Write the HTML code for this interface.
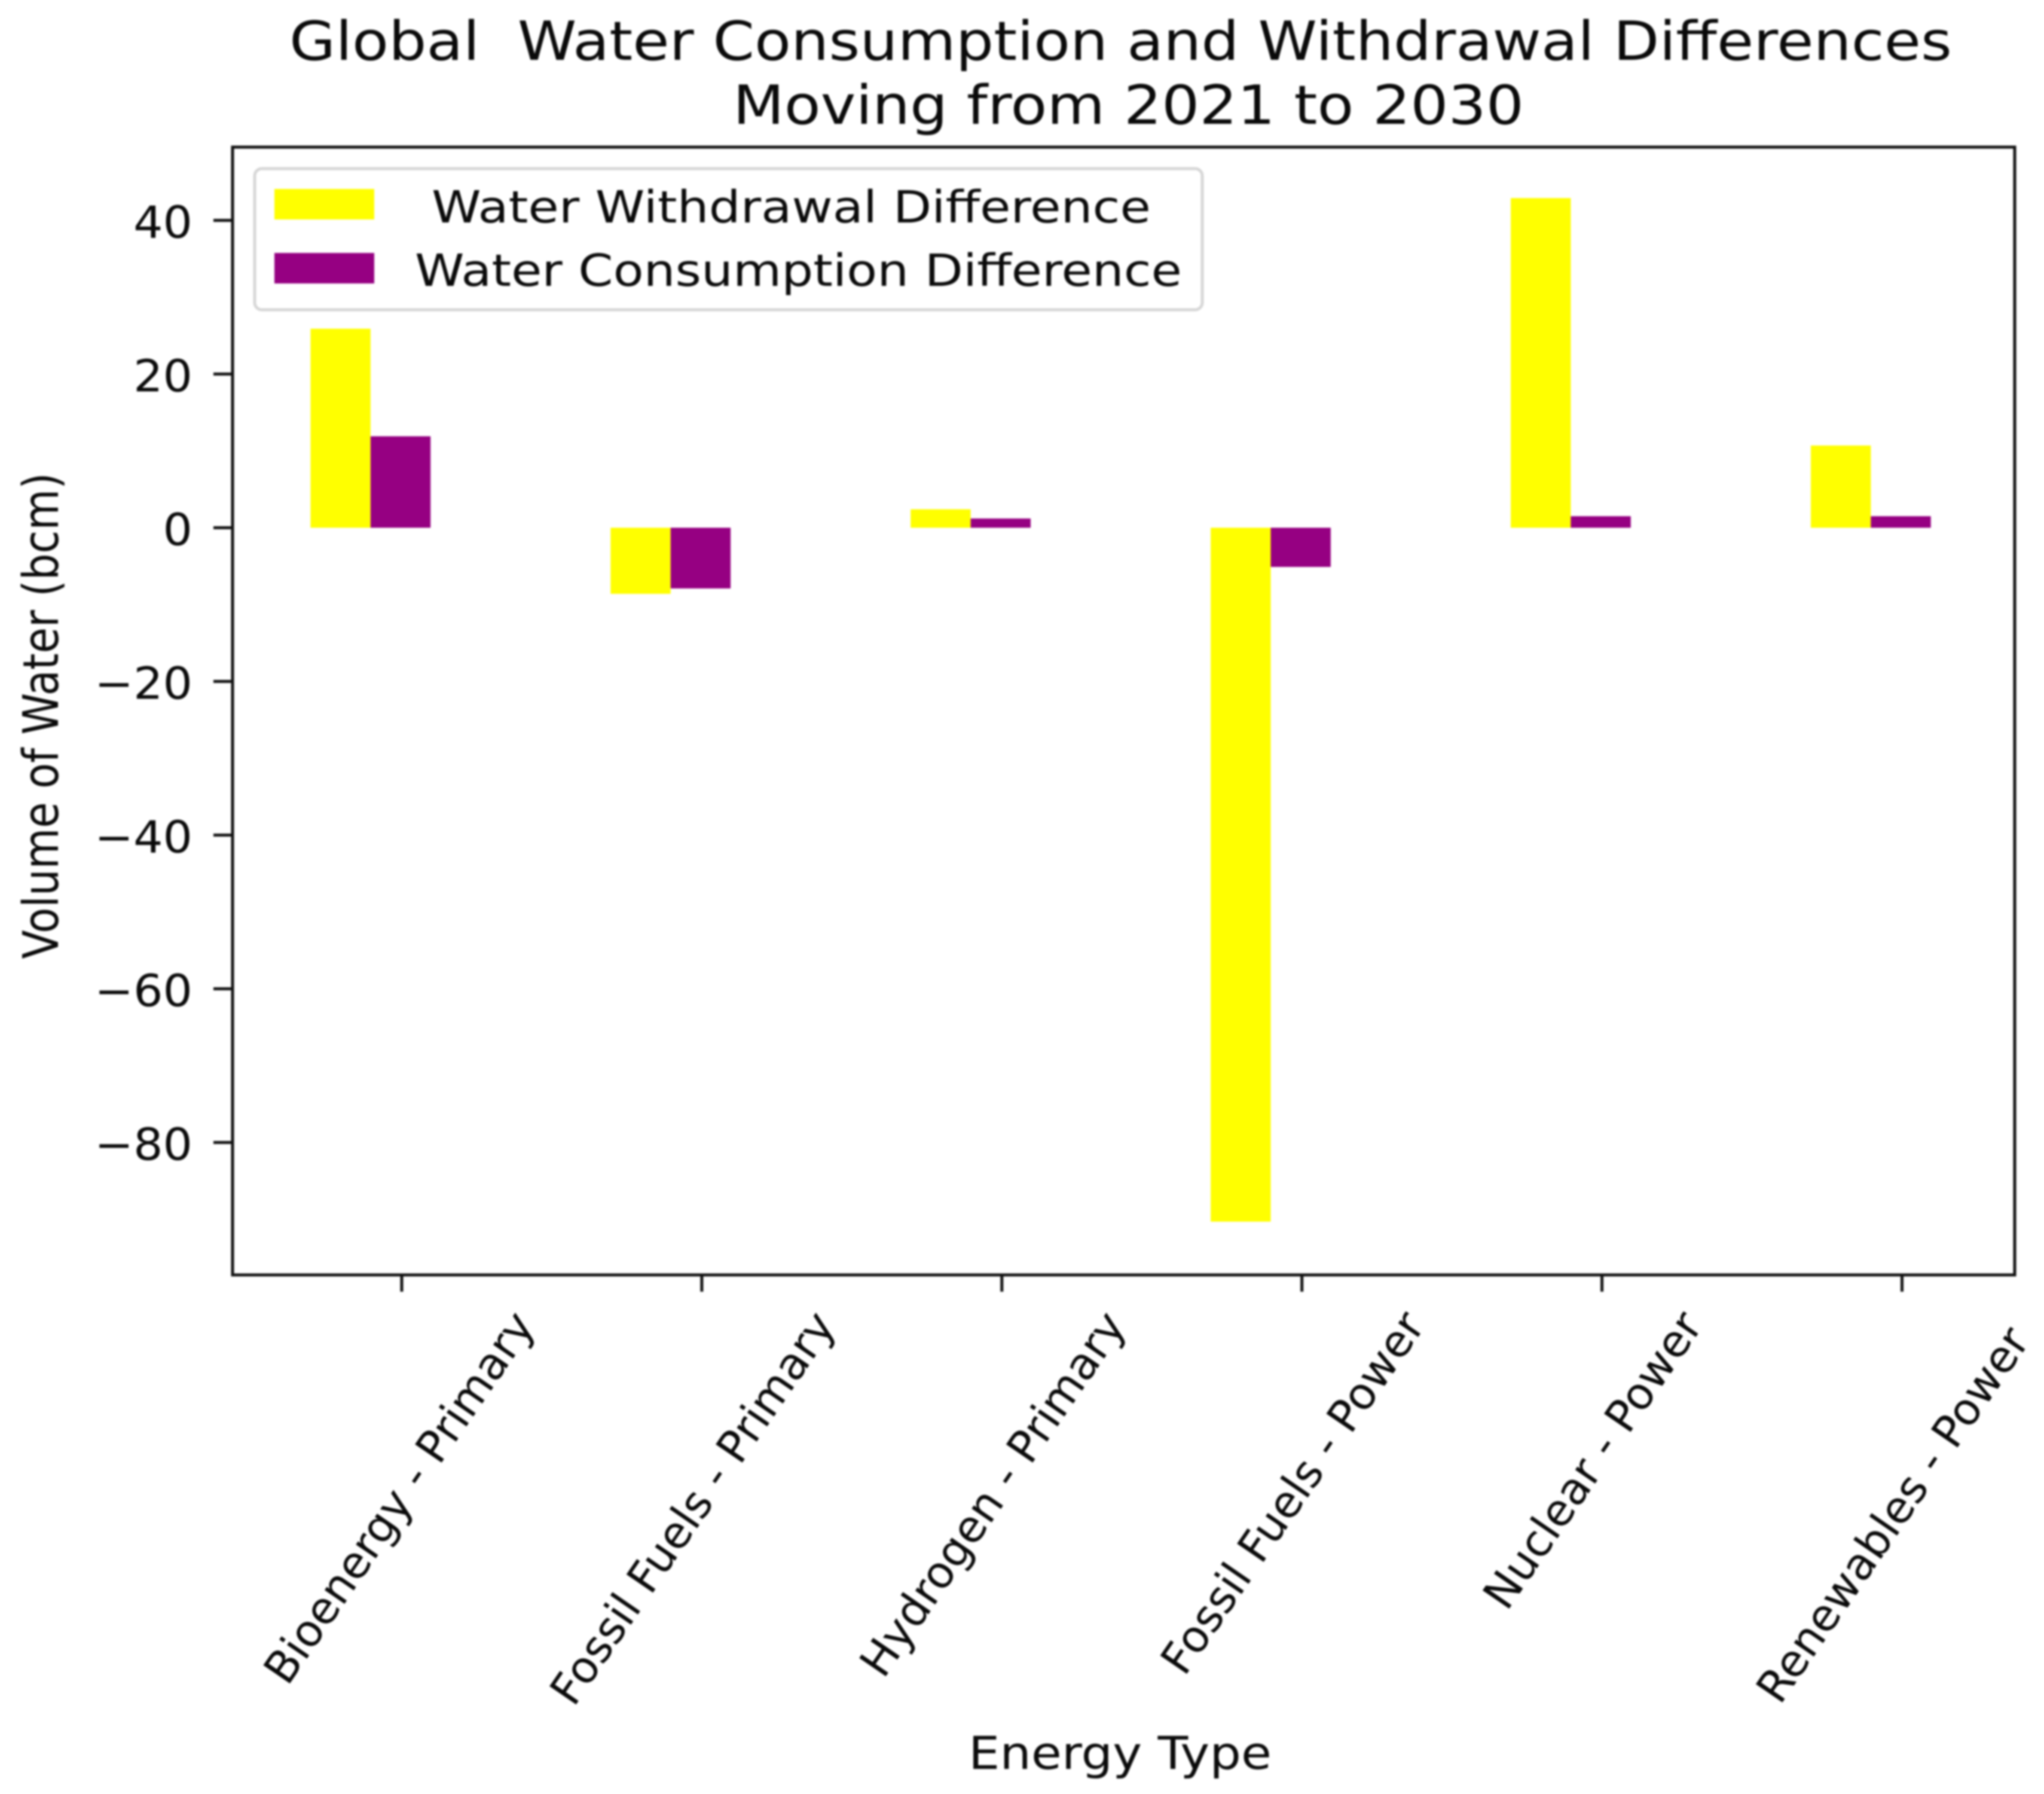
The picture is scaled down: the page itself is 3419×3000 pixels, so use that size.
<!DOCTYPE html>
<html lang="en">
<head>
<meta charset="utf-8">
<title>Global Water Consumption and Withdrawal Differences</title>
<style>
html,body{margin:0;padding:0;background:#fff;width:3419px;height:3000px;overflow:hidden}
svg{display:block;filter:blur(1.7px)}
text{font-family:"DejaVu Sans","Liberation Sans",sans-serif;fill:#0a0a0a;white-space:pre}
</style>
</head>
<body>
<svg id="chart" xmlns="http://www.w3.org/2000/svg" width="3419" height="3000" viewBox="0 0 3419 3000">
  <rect x="0" y="0" width="3419" height="3000" fill="#fff"/>
  <text x="484" y="100" font-size="90" textLength="2781" lengthAdjust="spacingAndGlyphs" xml:space="preserve">Global  Water Consumption and Withdrawal Differences</text>
  <text x="1226" y="207" font-size="90" textLength="1323" lengthAdjust="spacingAndGlyphs">Moving from 2021 to 2030</text>
  <g id="bars"></g>
  <g id="y-axis"></g>
  <g id="x-axis"></g>
  <rect x="389" y="246" width="2981" height="1886" fill="none" stroke="#111" stroke-width="5"/>
  <text transform="translate(97,1197) rotate(-90)" text-anchor="middle" font-size="82" textLength="813" lengthAdjust="spacingAndGlyphs">Volume of Water (bcm)</text>
  <text x="1620" y="2958" font-size="76" textLength="507" lengthAdjust="spacingAndGlyphs">Energy Type</text>
  <g>
    <rect x="426" y="282" width="1585" height="236" rx="12" ry="12" fill="#fff" stroke="#d6d6d6" stroke-width="5"/>
    <rect x="459" y="316" width="167" height="51" fill="#ffff00"/>
    <text x="722" y="372" font-size="74" textLength="1203" lengthAdjust="spacingAndGlyphs">Water Withdrawal Difference</text>
    <rect x="459" y="423" width="167" height="51" fill="#960082"/>
    <text x="694" y="478" font-size="74" textLength="1283" lengthAdjust="spacingAndGlyphs">Water Consumption Difference</text>
  </g>
</svg>
<script>
const categories = ["Bioenergy - Primary", "Fossil Fuels - Primary", "Hydrogen - Primary", "Fossil Fuels - Power", "Nuclear - Power", "Renewables - Power"];
const withdrawalDifference = [25.9, -8.6, 2.4, -90.3, 42.9, 10.7];
const consumptionDifference = [11.9, -7.9, 1.2, -5.1, 1.5, 1.5];
const yTickValues = [40, 20, 0, -20, -40, -60, -80];

const SVG_NS = "http://www.w3.org/2000/svg";
const X_STEP = 501.9;
const xScale = function (v) { return 672 + v * X_STEP; };
const yScale = function (v) { return 882.5 - v * 12.85; };
const BAR_WIDTH = 0.2;
const AXIS_LEFT = 389;
const AXIS_BOTTOM = 2132;
const LABEL_ANGLE = 55.5;
const LABEL_SIZE = 74;
const FIRST_LABEL_DX = 11;
const LAST_LABEL_DY = 26;

function create(tag, parent) {
  const el = document.createElementNS(SVG_NS, tag);
  parent.appendChild(el);
  return el;
}

function drawBar(parent, i, start, value, color) {
  const r = create("rect", parent);
  const y0 = yScale(0);
  const y1 = yScale(value);
  r.setAttribute("x", xScale(i + start));
  r.setAttribute("width", BAR_WIDTH * X_STEP);
  r.setAttribute("y", Math.min(y0, y1));
  r.setAttribute("height", Math.abs(y1 - y0));
  r.setAttribute("fill", color);
  return r;
}

const barsGroup = document.getElementById("bars");
categories.forEach(function (cat, i) {
  const a = drawBar(barsGroup, i, -0.304, withdrawalDifference[i], "#ffff00");
  
  
  const b = drawBar(barsGroup, i, -0.104, consumptionDifference[i], "#960082");
  
  
});

const yAxis = document.getElementById("y-axis");
yTickValues.forEach(function (v) {
  const t = create("line", yAxis);
  
  
  t.setAttribute("x1", AXIS_LEFT - 32);
  t.setAttribute("x2", AXIS_LEFT);
  t.setAttribute("y1", yScale(v));
  t.setAttribute("y2", yScale(v));
  t.setAttribute("stroke", "#111");
  t.setAttribute("stroke-width", 5);
  const l = create("text", yAxis);
  
  
  l.setAttribute("x", 322);
  l.setAttribute("y", yScale(v) + 29);
  l.setAttribute("text-anchor", "end");
  l.setAttribute("font-size", 74);
  l.textContent = String(v).replace("-", "\u2212");
  const w = l.getComputedTextLength();
  l.setAttribute("textLength", w * 1.05);
  l.setAttribute("lengthAdjust", "spacingAndGlyphs");
});

const xAxis = document.getElementById("x-axis");
categories.forEach(function (cat, i) {
  const t = create("line", xAxis);
  
  
  t.setAttribute("x1", xScale(i));
  t.setAttribute("x2", xScale(i));
  t.setAttribute("y1", AXIS_BOTTOM);
  t.setAttribute("y2", AXIS_BOTTOM + 28);
  t.setAttribute("stroke", "#111");
  t.setAttribute("stroke-width", 5);
  const l = create("text", xAxis);
  
  
  l.setAttribute("font-size", LABEL_SIZE);
  l.setAttribute("text-anchor", "middle");
  l.setAttribute("dominant-baseline", "central");
  l.textContent = cat;
  const len = l.getComputedTextLength();
  const rad = LABEL_ANGLE * Math.PI / 180;
  const bboxH = len * Math.sin(rad) + LABEL_SIZE * Math.cos(rad);
  const dx = i === 0 ? FIRST_LABEL_DX : 0;
  const dy = i === categories.length - 1 ? LAST_LABEL_DY : 0;
  const cy = AXIS_BOTTOM + 49 + dy + bboxH / 2;
  l.setAttribute("transform", "translate(" + (xScale(i) - 15 + dx) + "," + cy + ") rotate(-" + LABEL_ANGLE + ")");
});
</script>
</body>
</html>
